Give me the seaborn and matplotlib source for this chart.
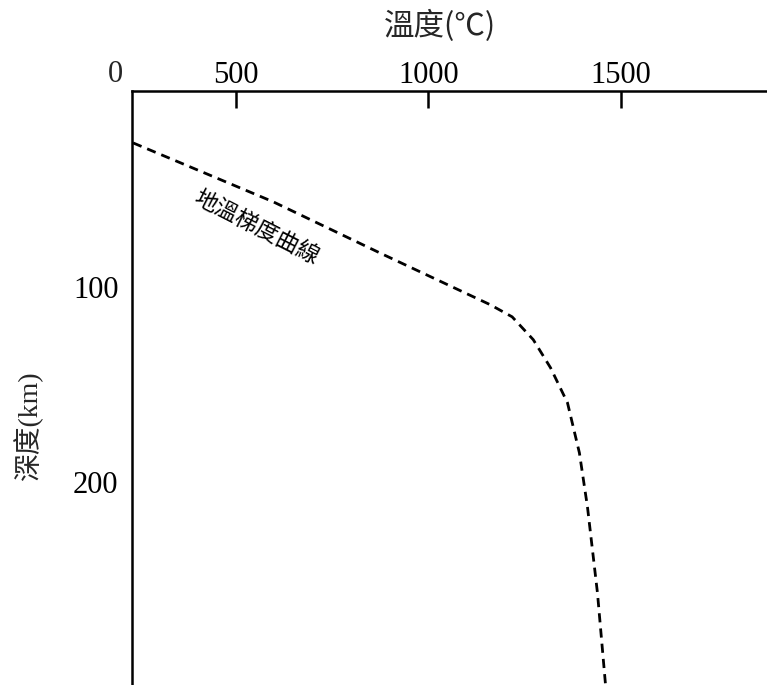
import matplotlib
matplotlib.use("Agg")
import matplotlib.pyplot as plt
import seaborn as sns
import pandas as pd

# geothermal gradient curve
temperature = [232, 596, 875, 1005, 1161, 1218, 1273, 1318, 1362, 1393, 1414, 1440, 1461]
depth = [26.5, 56.6, 82.9, 94.9, 109.3, 115.5, 127.2, 141.6, 159.5, 185.1, 212.8, 256.8, 303.9]
x_ticks = [500, 1000, 1500]
y_ticks = [100, 200]

df = pd.DataFrame({"temp": temperature, "depth": depth})

sns.set_style("white")
plt.rcParams["font.family"] = ["Liberation Serif", "Noto Sans CJK TC"]

fig = plt.figure(figsize=(7.67, 6.85), dpi=100)
ax = fig.add_axes([0.1725, 0.0, 0.8275, 0.867])

sns.lineplot(data=df, x="temp", y="depth", sort=False, ax=ax,
             color="black", linewidth=2.0)
ax.lines[0].set_dashes((3.3, 2.2))

ax.set_xlim(230, 1881)
ax.set_ylim(303.9, 0)

ax.xaxis.tick_top()
ax.xaxis.set_label_position("top")
ax.set_xticks(x_ticks)
ax.set_yticks(y_ticks)
ax.set_xticklabels([str(v) for v in x_ticks])
ax.set_yticklabels([str(v) for v in y_ticks])
ax.tick_params(axis="x", direction="in", length=12, width=1.8, pad=1,
               labelsize=22, colors="black")
ax.tick_params(axis="y", direction="in", length=12, width=1.8, pad=10,
               labelsize=22, colors="black")

for side in ["right", "bottom"]:
    ax.spines[side].set_visible(False)
for side in ["left", "top"]:
    ax.spines[side].set_linewidth(1.8)
    ax.spines[side].set_color("black")

ax.set_xlabel("溫度(℃)", fontsize=22,
              family=["Noto Sans CJK TC", "Liberation Serif"])
ax.xaxis.set_label_coords(0.485, 1.095)
ax.set_ylabel("深度(km)", fontsize=20)
ax.yaxis.set_label_coords(-0.14, 0.435)

ax.text(-0.014, 1.004, "0", transform=ax.transAxes, ha="right", va="bottom",
        fontsize=22)

ax.text(550, 70, "地溫梯度曲線", rotation=-27, rotation_mode="anchor",
        ha="center", va="center", fontsize=16.5, color="black")

fig.savefig("out.png", dpi=100)
